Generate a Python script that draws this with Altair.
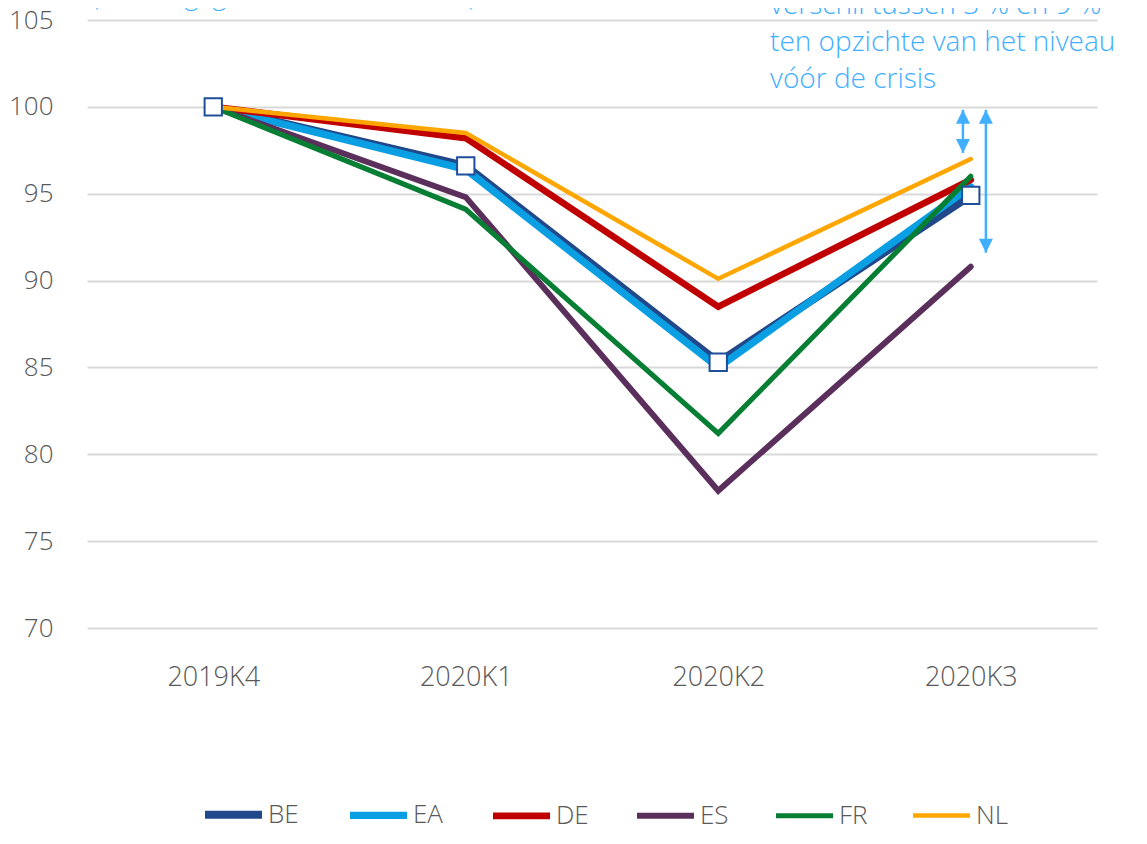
import json
import altair as alt
import pandas as pd

FONT = "Open Sans"
GREY = "#595959"
BLUE_TXT = "#41AFFF"

quarters = ["2019K4", "2020K1", "2020K2", "2020K3"]
series = ["BE", "EA", "DE", "ES", "FR", "NL"]
be = [100.0, 96.6, 85.3, 94.9]
ea = [100.0, 96.4, 85.0, 95.4]
de = [100.0, 98.2, 88.5, 95.8]
es = [100.0, 94.8, 77.9, 90.8]
fr = [100.0, 94.1, 81.2, 96.0]
nl = [100.0, 98.5, 90.1, 97.0]
colors = ["#21488A", "#0A9FE3", "#C00000", "#5B2F5B", "#067F34", "#FFA600"]
widths = [8, 4.5, 4.5, 4.5, 4.5, 4.5]
y_ticks = [70, 75, 80, 85, 90, 95, 100, 105]

subtitle = "(volumegegevens, 2019K4 = 100)"
subtitle_x = [-0.48]
subtitle_y = [106.3]

ann_lines = ["verschil tussen 3 % en 9 %", "ten opzichte van het niveau", "vóór de crisis"]
ann_x = [2.205, 2.205, 2.205]
ann_y = [105.8, 103.7, 101.55]

arrow_x = [2.969, 3.06]
arrow_top = [99.83, 99.83]
arrow_bottom = [97.35, 91.6]

values = {"BE": be, "EA": ea, "DE": de, "ES": es, "FR": fr, "NL": nl}
rows = []
for s in series:
    for i, q in enumerate(quarters):
        rows.append({"series": s, "idx": i, "quarter": q, "value": values[s][i]})
df = pd.DataFrame(rows)

label_expr = json.dumps(quarters) + "[datum.value]"

x_enc = alt.X(
    "idx:Q",
    scale=alt.Scale(domain=[-0.5, 3.5], nice=False, zero=False),
    axis=alt.Axis(values=[0, 1, 2, 3], labelExpr=label_expr, grid=False, ticks=False,
                  domain=False, title=None, labelPadding=36, labelFontSize=27),
)
y_enc = alt.Y(
    "value:Q",
    scale=alt.Scale(domain=[70, 105], nice=False, zero=False),
    axis=alt.Axis(values=y_ticks, title=None, grid=True, ticks=False, domain=False,
                  labelPadding=34),
)

legend = alt.Legend(
    title=None, orient="none", legendX=114, legendY=762, direction="horizontal",
    columns=6, symbolType="stroke", symbolSize=3249, columnPadding=36, labelOffset=2,
    labelFontSize=26, labelColor=GREY, labelFont=FONT, labelFontWeight=300,
)

lines = alt.Chart(df).mark_line(strokeCap="round", strokeJoin="miter").encode(
    x=x_enc,
    y=y_enc,
    color=alt.Color("series:N", scale=alt.Scale(domain=series, range=colors), sort=series, legend=legend),
    strokeWidth=alt.StrokeWidth("series:N", scale=alt.Scale(domain=series, range=widths), sort=series, legend=legend),
    order=alt.Order("idx:Q"),
)

markers = alt.Chart(df).transform_filter(alt.datum.series == "BE").mark_point(
    shape="square", filled=True, fill="white", stroke="#1F4E9A", strokeWidth=2, size=300, opacity=1
).encode(x="idx:Q", y="value:Q")

arrow_df = pd.DataFrame({"ax": arrow_x, "atop": arrow_top, "abot": arrow_bottom})
shafts = alt.Chart(arrow_df).mark_rule(strokeWidth=2.5, color=BLUE_TXT).encode(
    x="ax:Q", y="atop:Q", y2="abot:Q"
)
up_path = "M0,0L0.5,1L-0.5,1Z"
down_path = "M0,0L0.5,-1L-0.5,-1Z"
heads_up = alt.Chart(arrow_df).mark_point(shape=up_path, filled=True, color=BLUE_TXT, size=784, opacity=1).encode(
    x="ax:Q", y="atop:Q"
)
heads_down = alt.Chart(arrow_df).mark_point(shape=down_path, filled=True, color=BLUE_TXT, size=784, opacity=1).encode(
    x="ax:Q", y="abot:Q"
)

ann_df = pd.DataFrame({"t": ann_lines, "x": ann_x, "y": ann_y})
ann = alt.Chart(ann_df).mark_text(
    align="left", baseline="middle", font=FONT, fontSize=28, fontWeight=300, color=BLUE_TXT
).encode(x="x:Q", y="y:Q", text="t:N")

sub_df = pd.DataFrame({"t": [subtitle], "x": subtitle_x, "y": subtitle_y})
sub = alt.Chart(sub_df).mark_text(
    align="left", baseline="middle", font=FONT, fontSize=26, fontWeight=300, color=BLUE_TXT
).encode(x="x:Q", y="y:Q", text="t:N")

chart = alt.layer(lines, markers, shafts, heads_up, heads_down, ann, sub).properties(
    width=1010, height=608,
    background="white",
    autosize=alt.AutoSizeParams(type="none"),
    padding={"left": 79, "top": 12, "right": 42, "bottom": 204},
).configure_view(stroke=None).configure_axis(
    labelFont=FONT, labelFontSize=26, labelColor=GREY, labelFontWeight=300,
    gridColor="#D9D9D9", gridWidth=2,
)

chart.save("out.html", embed_options={"renderer": "svg", "actions": False})
